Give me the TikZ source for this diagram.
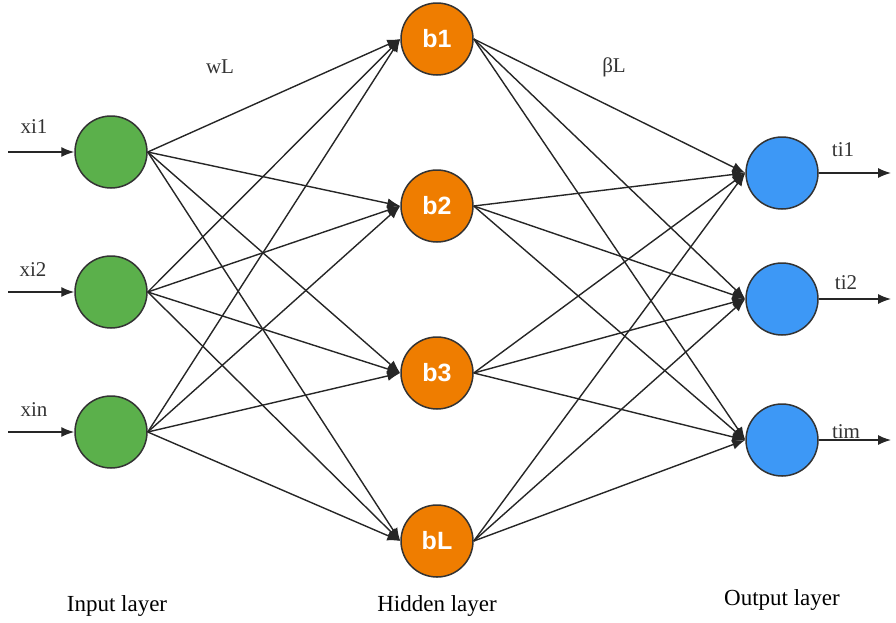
\documentclass[tikz,border=0pt]{standalone}
\usepackage{fontspec}
\setmainfont{Liberation Serif}
\setsansfont{Liberation Sans}
\usetikzlibrary{arrows.meta}
\definecolor{ingreen}{HTML}{5BB04B}
\definecolor{hidorange}{HTML}{EF7D00}
\definecolor{outblue}{HTML}{3D98F6}

\begin{document}
\begin{tikzpicture}[x=1pt,y=-1pt,
  neuron/.style={circle,draw=black!80,line width=1.5pt,minimum size=72pt,inner sep=0pt},
  inp/.style={neuron,fill=ingreen},
  hid/.style={neuron,fill=hidorange,text=white,font=\sffamily\bfseries\fontsize{25}{25}\selectfont},
  outp/.style={neuron,fill=outblue},
  edge/.style={-{Latex[length=13pt,width=10pt]},line width=1.4pt,black!85},
  lbl/.style={font=\fontsize{21}{21}\selectfont,text=black!80},
  layer/.style={font=\fontsize{23}{23}\selectfont}]
\useasboundingbox (0,0) rectangle (896,622);

% input layer
\node [inp] (x1) at (111,152) {};
\node [inp] (x2) at (111,292) {};
\node [inp] (x3) at (111,432) {};

% hidden layer
\node [hid] (b1) at (437,39) {b1};
\node [hid] (b2) at (437,206) {b2};
\node [hid] (b3) at (437,373) {b3};
\node [hid] (b4) at (437,541) {bL};

% output layer
\node [outp] (t1) at (782,173) {};
\node [outp] (t2) at (782,299) {};
\node [outp] (t3) at (782,440) {};

% weights
\foreach \i in {1,2,3}
  \foreach \j in {1,2,3,4}
    \draw [edge] (x\i.east) -- (b\j.west);
\foreach \j in {1,2,3,4}
  \foreach \k in {1,2,3}
    \draw [edge] (b\j.east) -- (t\k.west);

% inputs and outputs
\coordinate (in1) at (8,152);
\coordinate (in2) at (8,292);
\coordinate (in3) at (8,432);
\coordinate (out1) at (891,173);
\coordinate (out2) at (891,299);
\coordinate (out3) at (891,440);
\foreach \i in {1,2,3} {
  \draw [edge] (in\i) -- (x\i);
  \draw [edge] (t\i) -- (out\i);
}

\node [lbl] (lx1) at (34,127) {xi1};
\node [lbl] (lx2) at (33,270) {xi2};
\node [lbl] (lx3) at (34,410) {xin};
\node [lbl] (lt1) at (843,150) {ti1};
\node [lbl] (lt2) at (846,283) {ti2};
\node [lbl] (lt3) at (846,432) {tim};
\node [lbl] (w) at (220,67) {wL};
\node [lbl] (beta) at (614,67) {βL};

\node [layer] (li) at (117,606) {Input layer};
\node [layer] (lh) at (437,606) {Hidden layer};
\node [layer] (lo) at (782,600) {Output layer};
\end{tikzpicture}
\end{document}
